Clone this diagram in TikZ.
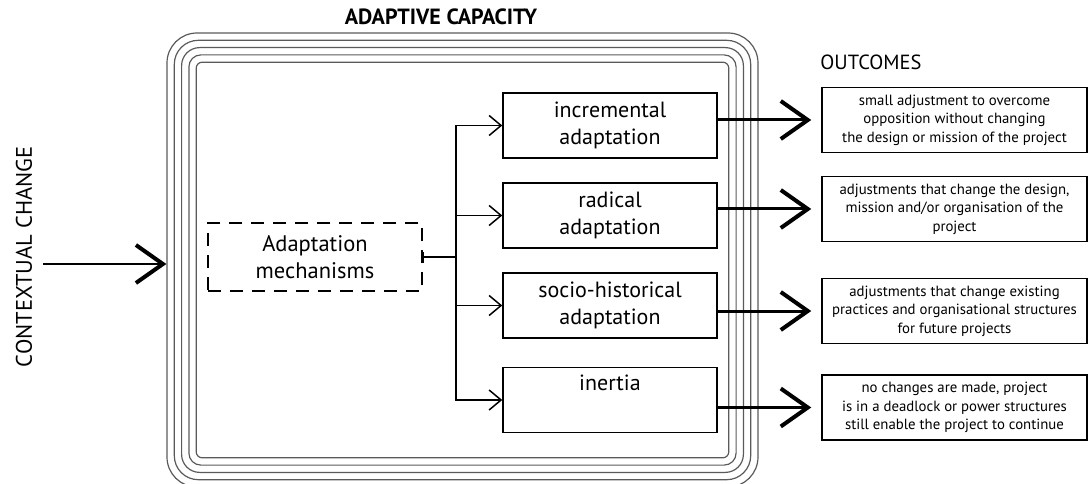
\documentclass[tikz,border=0pt]{standalone}
\usepackage{fontspec}
\setmainfont{PT Sans}
\usetikzlibrary{arrows.meta,positioning}
\definecolor{framec}{HTML}{5A5A5A}

\begin{document}
\begin{tikzpicture}[x=1pt,y=-1pt,
    stagebox/.style={draw,line width=1.5pt,minimum width=214pt,minimum height=65pt,align=center,inner sep=0pt,font=\fontsize{22}{27}\selectfont},
    outbox/.style={draw,line width=1.5pt,minimum width=265pt,minimum height=65pt,align=center,inner sep=0pt,font=\fontsize{14.8}{18.5}\selectfont},
    mechbox/.style={draw,line width=1.8pt,dash pattern=on 13pt off 9pt,minimum width=214pt,minimum height=68pt,align=center,font=\fontsize{22.5}{27}\selectfont},
    frameline/.style={draw=framec,line width=1.2pt,inner sep=0pt},
    bigarrow/.style={line width=3pt,-{Straight Barb[length=27pt,width=38pt,line width=4pt]}},
    >={Straight Barb[length=12pt,width=20pt]}]
  \useasboundingbox (0,0) rectangle (1088,484);
  % nested frame of adaptive capacity
  \foreach \k [evaluate=\k as \rad using 30-6*\k,
               evaluate=\k as \fw using 591-14.6*\k,
               evaluate=\k as \fh using 454-14.6*\k] in {0,...,4}
    \node[frameline,minimum width=\fw pt,minimum height=\fh pt,rounded corners=\rad pt] (frame\k) at (462.5,260) {};
  \node[font=\fontsize{22}{24}\selectfont\bfseries] (title) at (441,17) {ADAPTIVE CAPACITY};
  \node[font=\fontsize{20.5}{24}\selectfont] (outlabel) at (871,62) {OUTCOMES};
  \node[rotate=90,font=\fontsize{22.5}{24}\selectfont] (context) at (24,257) {CONTEXTUAL CHANGE};
  \coordinate (ctx) at (43,264);
  \draw[bigarrow,line width=2pt] (ctx) -- (ctx -| frame0.west);

  \node[mechbox] (mech) at (315,257) {Adaptation\\mechanisms};
  \node[stagebox] (inc) at (610,125.5) {incremental\\adaptation};
  \node[stagebox] (rad) at (610,215.5) {radical\\adaptation};
  \node[stagebox] (soc) at (610,305.5) {socio-historical\\adaptation};
  \node[stagebox] (ine) at (610,400) {inertia\\\strut};

  \node[outbox] (o1) at (954.5,120) {small adjustment to overcome\\opposition without changing\\the design or mission of the project};
  \node[outbox] (o2) at (954.5,209) {adjustments that change the design,\\mission and/or organisation of the\\project};
  \node[outbox] (o3) at (954.5,311) {adjustments that change existing\\practices and organisational structures\\for future projects};
  \node[outbox] (o4) at (954.5,407.5) {no changes are made, project\\is in a deadlock or power structures\\still enable the project to continue};

  % branching
  \coordinate (split) at (456,257);
  \draw[line width=1.5pt,{Bar[width=11pt]}-] (mech.east) -- (split);
  \foreach \s in {inc,rad,soc,ine}
    \draw[line width=1.5pt,->] (split) |- (\s.west);
  % outcomes
  \foreach \s/\o in {inc/o1,rad/o2,soc/o3,ine/o4}
    \draw[bigarrow,shorten >=10pt] (\o.west -| \s.east) -- (\o.west);
\end{tikzpicture}
\end{document}
